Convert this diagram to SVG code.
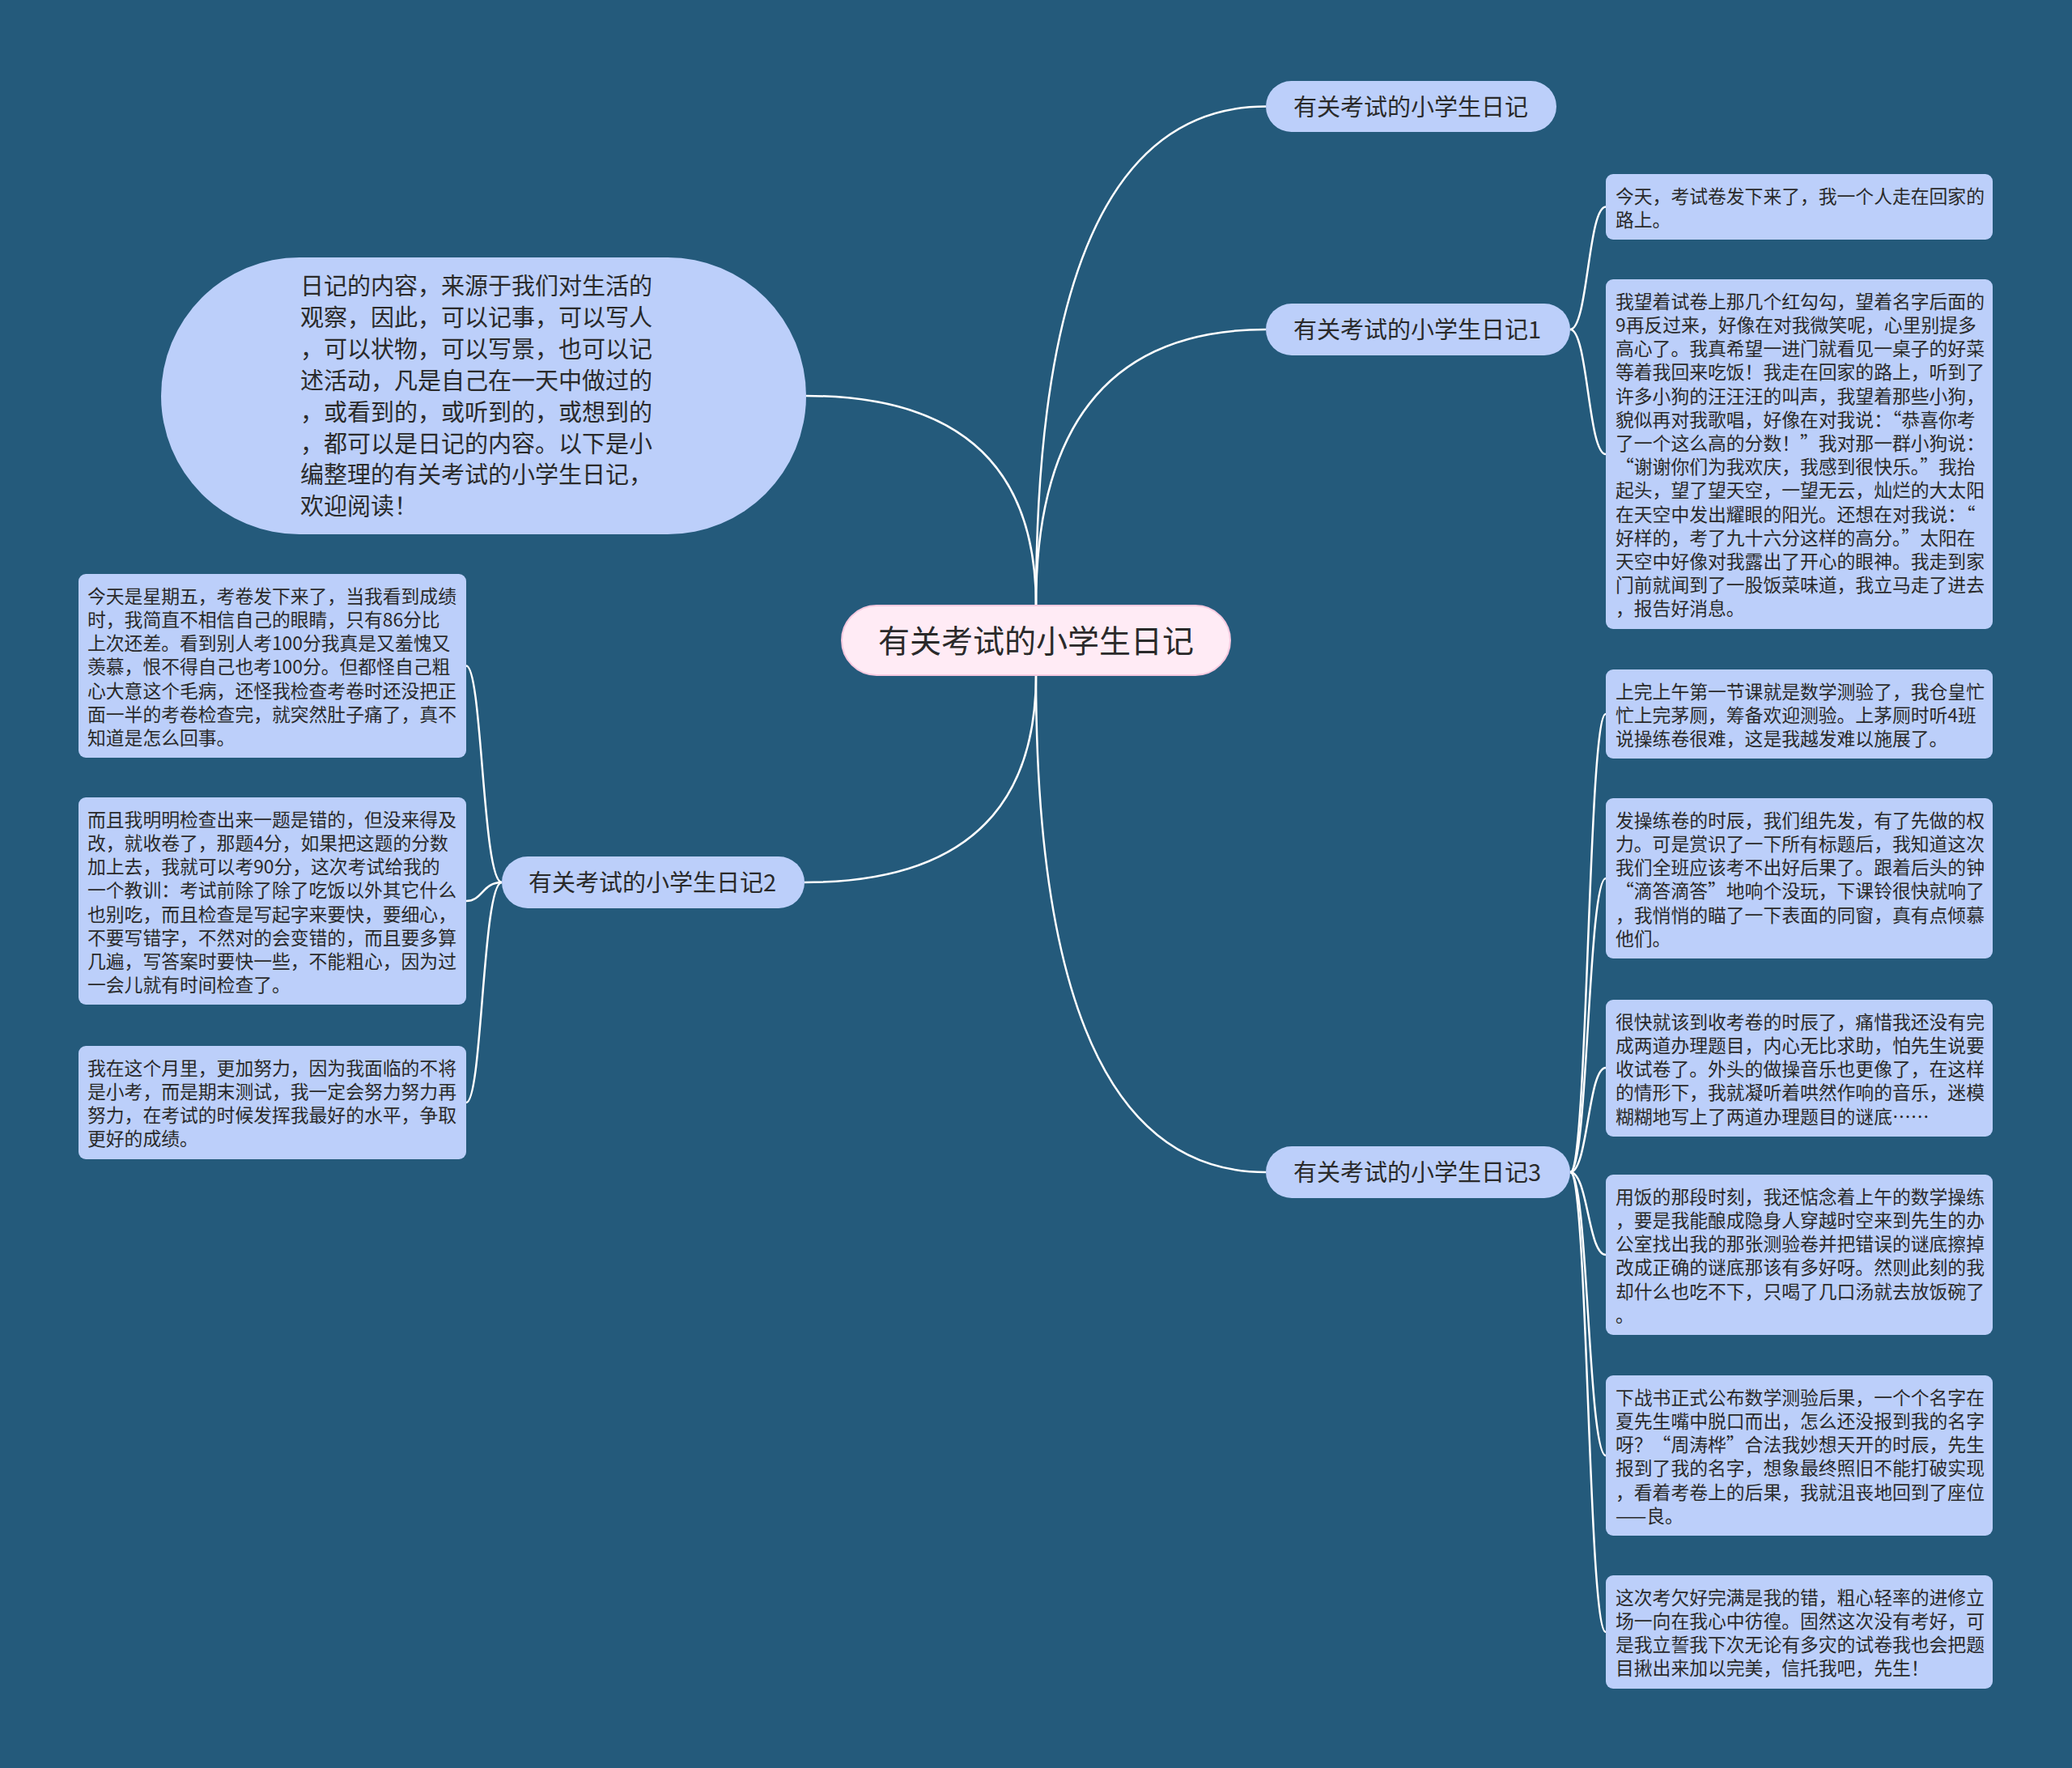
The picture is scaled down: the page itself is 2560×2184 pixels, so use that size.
<svg xmlns="http://www.w3.org/2000/svg" width="2560" height="2184" viewBox="0 0 2560 2184">
<style>
.bg{fill:#245a7b}
.leaf{fill:#bccffa}
.branch{fill:#bccffa}
.root{fill:#ffebf5;stroke:#f6c9df;stroke-width:2}
.t{font-family:"Noto Sans CJK SC","Noto Sans",sans-serif;fill:#2a2a2a}
.lt{font-size:22.8px}
.bt{font-size:29px}
.rt{font-size:39px}
.conn path{fill:none;stroke:#ffffff;stroke-width:2.5}
</style>
<rect class="bg" x="0" y="0" width="2560" height="2184"/>
<g id="connectors" class="conn">
<path d="M1280 748 Q1280 131.5 1564 131.5"/>
<path d="M1280 748 Q1280 407 1564 407"/>
<path d="M1280 748 Q1280 489 996 489"/>
<path d="M1280 834 Q1280 1448 1564 1448"/>
<path d="M1280 834 Q1280 1090 994 1090"/>
<path d="M1940 407 C1962 407 1962 255.5 1984 255.5"/>
<path d="M1940 407 C1962 407 1962 561 1984 561"/>
<path d="M1940 1448 C1962 1448 1962 882 1984 882"/>
<path d="M1940 1448 C1962 1448 1962 1085 1984 1085"/>
<path d="M1940 1448 C1962 1448 1962 1319 1984 1319"/>
<path d="M1940 1448 C1962 1448 1962 1550 1984 1550"/>
<path d="M1940 1448 C1962 1448 1962 1798 1984 1798"/>
<path d="M1940 1448 C1962 1448 1962 2016 1984 2016"/>
<path d="M620 1090 C596 1090 596 822.5 576 822.5"/>
<path d="M620 1090 C596 1090 596 1113 576 1113"/>
<path d="M620 1090 C596 1090 596 1362 576 1362"/>
</g>
<g id="root">
<rect class="root" x="1040" y="748" width="480" height="86" rx="43"/>
<text class="t rt" x="1280" y="806" text-anchor="middle">有关考试的小学生日记</text>
</g>
<g id="intro">
<rect class="leaf" x="199" y="318" width="797" height="342" rx="171"/>
<text class="t bt" x="371" y="364">
<tspan x="371" dy="0">日记的内容，来源于我们对生活的</tspan>
<tspan x="371" dy="38.9">观察，因此，可以记事，可以写人</tspan>
<tspan x="371" dy="38.9">，可以状物，可以写景，也可以记</tspan>
<tspan x="371" dy="38.9">述活动，凡是自己在一天中做过的</tspan>
<tspan x="371" dy="38.9">，或看到的，或听到的，或想到的</tspan>
<tspan x="371" dy="38.9">，都可以是日记的内容。以下是小</tspan>
<tspan x="371" dy="38.9">编整理的有关考试的小学生日记，</tspan>
<tspan x="371" dy="38.9">欢迎阅读！</tspan>
</text>
</g>
<g id="b0">
<rect class="branch" x="1564" y="100" width="359" height="63" rx="31.5"/>
<text class="t bt" x="1598" y="142.5">有关考试的小学生日记</text>
</g>
<g id="b1">
<rect class="branch" x="1564" y="375" width="376" height="64" rx="32"/>
<text class="t bt" x="1598" y="418">有关考试的小学生日记1</text>
</g>
<g id="b3">
<rect class="branch" x="1564" y="1416" width="376" height="64" rx="32"/>
<text class="t bt" x="1598" y="1459">有关考试的小学生日记3</text>
</g>
<g id="b2">
<rect class="branch" x="620" y="1058" width="374" height="64" rx="32"/>
<text class="t bt" x="653" y="1101">有关考试的小学生日记2</text>
</g>
<g id="l1">
<rect class="leaf" x="97" y="709" width="479" height="227" rx="9"/>
<text class="t lt" x="108" y="744.7">
<tspan x="108" dy="0">今天是星期五，考卷发下来了，当我看到成绩</tspan>
<tspan x="108" dy="29.2">时，我简直不相信自己的眼睛，只有86分比</tspan>
<tspan x="108" dy="29.2">上次还差。看到别人考100分我真是又羞愧又</tspan>
<tspan x="108" dy="29.2">羡慕，恨不得自己也考100分。但都怪自己粗</tspan>
<tspan x="108" dy="29.2">心大意这个毛病，还怪我检查考卷时还没把正</tspan>
<tspan x="108" dy="29.2">面一半的考卷检查完，就突然肚子痛了，真不</tspan>
<tspan x="108" dy="29.2">知道是怎么回事。</tspan>
</text>
</g>
<g id="l2">
<rect class="leaf" x="97" y="985" width="479" height="256" rx="9"/>
<text class="t lt" x="108" y="1020.7">
<tspan x="108" dy="0">而且我明明检查出来一题是错的，但没来得及</tspan>
<tspan x="108" dy="29.2">改，就收卷了，那题4分，如果把这题的分数</tspan>
<tspan x="108" dy="29.2">加上去，我就可以考90分，这次考试给我的</tspan>
<tspan x="108" dy="29.2">一个教训：考试前除了除了吃饭以外其它什么</tspan>
<tspan x="108" dy="29.2">也别吃，而且检查是写起字来要快，要细心，</tspan>
<tspan x="108" dy="29.2">不要写错字，不然对的会变错的，而且要多算</tspan>
<tspan x="108" dy="29.2">几遍，写答案时要快一些，不能粗心，因为过</tspan>
<tspan x="108" dy="29.2">一会儿就有时间检查了。</tspan>
</text>
</g>
<g id="l3">
<rect class="leaf" x="97" y="1292" width="479" height="140" rx="9"/>
<text class="t lt" x="108" y="1327.7">
<tspan x="108" dy="0">我在这个月里，更加努力，因为我面临的不将</tspan>
<tspan x="108" dy="29.2">是小考，而是期末测试，我一定会努力努力再</tspan>
<tspan x="108" dy="29.2">努力，在考试的时候发挥我最好的水平，争取</tspan>
<tspan x="108" dy="29.2">更好的成绩。</tspan>
</text>
</g>
<g id="r1a">
<rect class="leaf" x="1984" y="215" width="478" height="81" rx="9"/>
<text class="t lt" x="1996" y="250.7">
<tspan x="1996" dy="0">今天，考试卷发下来了，我一个人走在回家的</tspan>
<tspan x="1996" dy="29.2">路上。</tspan>
</text>
</g>
<g id="r1b">
<rect class="leaf" x="1984" y="345" width="478" height="432" rx="9"/>
<text class="t lt" x="1996" y="380.7">
<tspan x="1996" dy="0">我望着试卷上那几个红勾勾，望着名字后面的</tspan>
<tspan x="1996" dy="29.2">9再反过来，好像在对我微笑呢，心里别提多</tspan>
<tspan x="1996" dy="29.2">高心了。我真希望一进门就看见一桌子的好菜</tspan>
<tspan x="1996" dy="29.2">等着我回来吃饭！我走在回家的路上，听到了</tspan>
<tspan x="1996" dy="29.2">许多小狗的汪汪汪的叫声，我望着那些小狗，</tspan>
<tspan x="1996" dy="29.2">貌似再对我歌唱，好像在对我说：“恭喜你考</tspan>
<tspan x="1996" dy="29.2">了一个这么高的分数！”我对那一群小狗说：</tspan>
<tspan x="1996" dy="29.2">“谢谢你们为我欢庆，我感到很快乐。”我抬</tspan>
<tspan x="1996" dy="29.2">起头，望了望天空，一望无云，灿烂的大太阳</tspan>
<tspan x="1996" dy="29.2">在天空中发出耀眼的阳光。还想在对我说：“</tspan>
<tspan x="1996" dy="29.2">好样的，考了九十六分这样的高分。”太阳在</tspan>
<tspan x="1996" dy="29.2">天空中好像对我露出了开心的眼神。我走到家</tspan>
<tspan x="1996" dy="29.2">门前就闻到了一股饭菜味道，我立马走了进去</tspan>
<tspan x="1996" dy="29.2">，报告好消息。</tspan>
</text>
</g>
<g id="r3a">
<rect class="leaf" x="1984" y="827" width="478" height="110" rx="9"/>
<text class="t lt" x="1996" y="862.7">
<tspan x="1996" dy="0">上完上午第一节课就是数学测验了，我仓皇忙</tspan>
<tspan x="1996" dy="29.2">忙上完茅厕，筹备欢迎测验。上茅厕时听4班</tspan>
<tspan x="1996" dy="29.2">说操练卷很难，这是我越发难以施展了。</tspan>
</text>
</g>
<g id="r3b">
<rect class="leaf" x="1984" y="986" width="478" height="198" rx="9"/>
<text class="t lt" x="1996" y="1021.7">
<tspan x="1996" dy="0">发操练卷的时辰，我们组先发，有了先做的权</tspan>
<tspan x="1996" dy="29.2">力。可是赏识了一下所有标题后，我知道这次</tspan>
<tspan x="1996" dy="29.2">我们全班应该考不出好后果了。跟着后头的钟</tspan>
<tspan x="1996" dy="29.2">“滴答滴答”地响个没玩，下课铃很快就响了</tspan>
<tspan x="1996" dy="29.2">，我悄悄的瞄了一下表面的同窗，真有点倾慕</tspan>
<tspan x="1996" dy="29.2">他们。</tspan>
</text>
</g>
<g id="r3c">
<rect class="leaf" x="1984" y="1235" width="478" height="169" rx="9"/>
<text class="t lt" x="1996" y="1270.7">
<tspan x="1996" dy="0">很快就该到收考卷的时辰了，痛惜我还没有完</tspan>
<tspan x="1996" dy="29.2">成两道办理题目，内心无比求助，怕先生说要</tspan>
<tspan x="1996" dy="29.2">收试卷了。外头的做操音乐也更像了，在这样</tspan>
<tspan x="1996" dy="29.2">的情形下，我就凝听着哄然作响的音乐，迷模</tspan>
<tspan x="1996" dy="29.2">糊糊地写上了两道办理题目的谜底……</tspan>
</text>
</g>
<g id="r3d">
<rect class="leaf" x="1984" y="1451" width="478" height="198" rx="9"/>
<text class="t lt" x="1996" y="1486.7">
<tspan x="1996" dy="0">用饭的那段时刻，我还惦念着上午的数学操练</tspan>
<tspan x="1996" dy="29.2">，要是我能酿成隐身人穿越时空来到先生的办</tspan>
<tspan x="1996" dy="29.2">公室找出我的那张测验卷并把错误的谜底擦掉</tspan>
<tspan x="1996" dy="29.2">改成正确的谜底那该有多好呀。然则此刻的我</tspan>
<tspan x="1996" dy="29.2">却什么也吃不下，只喝了几口汤就去放饭碗了</tspan>
<tspan x="1996" dy="29.2">。</tspan>
</text>
</g>
<g id="r3e">
<rect class="leaf" x="1984" y="1699" width="478" height="198" rx="9"/>
<text class="t lt" x="1996" y="1734.7">
<tspan x="1996" dy="0">下战书正式公布数学测验后果，一个个名字在</tspan>
<tspan x="1996" dy="29.2">夏先生嘴中脱口而出，怎么还没报到我的名字</tspan>
<tspan x="1996" dy="29.2">呀？“周涛桦”合法我妙想天开的时辰，先生</tspan>
<tspan x="1996" dy="29.2">报到了我的名字，想象最终照旧不能打破实现</tspan>
<tspan x="1996" dy="29.2">，看着考卷上的后果，我就沮丧地回到了座位</tspan>
<tspan x="1996" dy="29.2">——良。</tspan>
</text>
</g>
<g id="r3f">
<rect class="leaf" x="1984" y="1946" width="478" height="140" rx="9"/>
<text class="t lt" x="1996" y="1981.7">
<tspan x="1996" dy="0">这次考欠好完满是我的错，粗心轻率的进修立</tspan>
<tspan x="1996" dy="29.2">场一向在我心中彷徨。固然这次没有考好，可</tspan>
<tspan x="1996" dy="29.2">是我立誓我下次无论有多灾的试卷我也会把题</tspan>
<tspan x="1996" dy="29.2">目揪出来加以完美，信托我吧，先生！</tspan>
</text>
</g>
</svg>
